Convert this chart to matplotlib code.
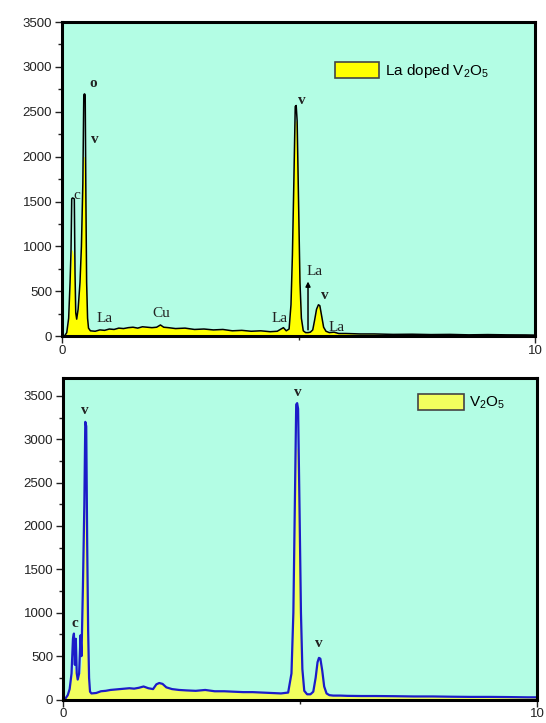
import matplotlib
matplotlib.use("Agg")
import matplotlib.pyplot as plt
from matplotlib.patches import Patch
from matplotlib.ticker import MultipleLocator

plt.rcParams['font.family'] = ['Liberation Sans', 'DejaVu Sans']
plt.rcParams['mathtext.default'] = 'regular'

# ---- top panel: La doped V2O5 (energy keV, counts) ----
e_top = [0.00, 0.05, 0.10, 0.14, 0.17, 0.19, 0.205, 0.22, 0.24, 0.26, 0.275, 0.29, 0.31, 0.34,
         0.38, 0.41, 0.44, 0.46, 0.475, 0.49, 0.505, 0.52, 0.54, 0.56, 0.60, 0.70, 0.80, 0.90,
         1.00, 1.10, 1.20, 1.30, 1.40, 1.50, 1.60, 1.70, 1.80, 1.90, 2.00, 2.08, 2.15, 2.25,
         2.40, 2.60, 2.80, 3.00, 3.20, 3.40, 3.60, 3.80, 4.00, 4.20, 4.40, 4.55, 4.63, 4.68,
         4.74, 4.80, 4.84, 4.87, 4.90, 4.93, 4.95, 4.97, 5.00, 5.03, 5.06, 5.10, 5.15, 5.20,
         5.25, 5.30, 5.34, 5.38, 5.42, 5.45, 5.49, 5.53, 5.58, 5.65, 5.75, 5.85, 6.00, 6.30,
         6.60, 7.00, 7.40, 7.80, 8.20, 8.60, 9.00, 9.40, 9.80, 10.0]
line_top = [0, 0, 40, 200, 600, 950, 1530, 1540, 1537, 1530, 700, 260, 190, 300,
            600, 1000, 1700, 2690, 2700, 2690, 1500, 600, 200, 90, 60, 55, 70, 65,
            80, 75, 90, 85, 95, 100, 90, 105, 100, 95, 100, 125, 100, 95,
            85, 90, 75, 80, 70, 75, 60, 65, 55, 60, 50, 55, 80, 95,
            60, 80, 350, 900, 1700, 2560, 2570, 2400, 1500, 600, 200, 60, 40, 40,
            45, 70, 180, 300, 350, 340, 220, 100, 55, 40, 45, 30, 30, 25,
            25, 20, 22, 18, 20, 15, 18, 15, 14, 12]
fill_top = [0, 0, 40, 200, 550, 800, 960, 960, 900, 700, 450, 260, 190, 300,
            600, 1000, 1700, 2000, 2000, 1900, 1400, 600, 200, 90, 60, 55, 70, 65,
            80, 75, 90, 85, 95, 100, 90, 105, 100, 95, 100, 125, 100, 95,
            85, 90, 75, 80, 70, 75, 60, 65, 55, 60, 50, 55, 80, 95,
            60, 80, 350, 900, 1700, 2400, 2400, 2300, 1500, 600, 200, 60, 40, 40,
            45, 70, 180, 300, 350, 340, 220, 100, 55, 40, 45, 30, 30, 25,
            25, 20, 22, 18, 20, 15, 18, 15, 14, 12]
labels_top = ["o", "v", "c", "La", "Cu", "La", "v", "La", "v", "La"]
lab_x_top = [0.65, 0.70, 0.31, 0.90, 2.09, 4.59, 5.07, 5.33, 5.56, 5.81]
lab_y_top = [2810, 2190, 1570, 196, 250, 196, 2630, 717, 452, 96]
arrow_x = 5.20
arrow_y = [40, 640]

# ---- bottom panel: V2O5 ----
e_bot = [0.00, 0.05, 0.10, 0.14, 0.18, 0.21, 0.23, 0.25, 0.27, 0.29, 0.31, 0.34, 0.37, 0.39,
         0.42, 0.45, 0.47, 0.49, 0.51, 0.53, 0.55, 0.57, 0.60, 0.70, 0.80, 0.90, 1.00, 1.10,
         1.20, 1.30, 1.40, 1.50, 1.60, 1.70, 1.80, 1.90, 1.97, 2.03, 2.10, 2.18, 2.30, 2.45,
         2.60, 2.80, 3.00, 3.20, 3.40, 3.60, 3.80, 4.00, 4.20, 4.40, 4.60, 4.75, 4.82, 4.86,
         4.89, 4.92, 4.94, 4.96, 4.99, 5.02, 5.05, 5.09, 5.15, 5.22, 5.28, 5.33, 5.37, 5.40,
         5.43, 5.47, 5.51, 5.56, 5.62, 5.70, 5.85, 6.00, 6.30, 6.60, 7.00, 7.40, 7.80, 8.20,
         8.60, 9.00, 9.40, 9.80, 10.0]
line_bot = [0, 10, 50, 120, 300, 700, 760, 400, 700, 300, 230, 300, 740, 500,
            1300, 2250, 3200, 3150, 1800, 800, 250, 90, 70, 75, 95, 100, 110, 115,
            120, 125, 130, 125, 135, 150, 130, 120, 175, 190, 180, 140, 120, 110,
            105, 100, 110, 95, 95, 90, 85, 85, 80, 75, 70, 80, 300, 1000,
            2200, 3400, 3416, 3350, 2200, 1000, 350, 100, 60, 60, 90, 250, 430, 480,
            470, 330, 150, 70, 50, 45, 45, 42, 40, 40, 38, 35, 35, 32,
            30, 30, 28, 25, 25]
fill_bot = [0, 10, 50, 120, 250, 300, 380, 320, 350, 250, 220, 280, 320, 420,
            800, 1800, 2280, 2280, 1500, 700, 250, 90, 70, 75, 95, 100, 110, 115,
            120, 125, 130, 125, 135, 150, 130, 120, 175, 190, 180, 140, 120, 110,
            105, 100, 110, 95, 95, 90, 85, 85, 80, 75, 70, 80, 300, 900,
            1800, 2900, 2900, 2800, 1800, 800, 350, 100, 60, 60, 90, 250, 400, 430,
            430, 320, 150, 70, 50, 45, 45, 42, 40, 40, 38, 35, 35, 32,
            30, 30, 28, 25, 25]
labels_bot = ["c", "v", "v", "v"]
lab_x_bot = [0.24, 0.46, 4.96, 5.40]
lab_y_bot = [875, 3330, 3537, 648]

bg = '#b3fde4'

fig = plt.figure(figsize=(5.46, 7.23), dpi=100)
ax1 = fig.add_axes([0.1136, 0.535, 0.8664, 0.4345])
ax2 = fig.add_axes([0.1154, 0.0325, 0.8681, 0.4440])


def style(ax, ymax):
    ax.set_facecolor(bg)
    ax.set_xlim(0, 10)
    ax.set_ylim(0, ymax)
    ax.set_xticks([0, 10])
    ax.xaxis.set_minor_locator(MultipleLocator(5))
    ax.yaxis.set_major_locator(MultipleLocator(500))
    ax.yaxis.set_minor_locator(MultipleLocator(250))
    ax.tick_params(which='major', direction='out', length=5, width=1, labelsize=9.5,
                   colors='#222222', pad=2)
    ax.tick_params(axis='x', which='major', pad=1)
    ax.tick_params(which='minor', direction='out', length=3, width=1, colors='#222222')
    for s in ax.spines.values():
        s.set_linewidth(2.2)
        s.set_color('black')


# top
style(ax1, 3500)
ax1.fill_between(e_top, fill_top, color='#ffff00', lw=0)
ax1.plot(e_top, line_top, color='black', lw=1.1)
ax1.annotate('', xy=(arrow_x, arrow_y[1]), xytext=(arrow_x, arrow_y[0]),
             arrowprops=dict(arrowstyle='-|>', color='black', lw=1.1, mutation_scale=7))
for t, x, y in zip(labels_top, lab_x_top, lab_y_top):
    ax1.text(x, y, t, ha='center', va='center', fontsize=11, family='Liberation Serif',
             fontweight='bold' if t in ('o', 'v') else 'normal', color='#222222')
ax1.legend(handles=[Patch(facecolor='#ffff00', edgecolor='#444444', lw=1.2)],
           labels=['La doped V$_2$O$_5$'], loc='center left',
           bbox_to_anchor=(0.577, 0.844), frameon=False, fontsize=11,
           borderpad=0, borderaxespad=0, handlelength=2.9, handleheight=1.2,
           handletextpad=0.35)

# bottom
style(ax2, 3700)
ax2.fill_between(e_bot, fill_bot, color='#f2ff5e', lw=0)
ax2.plot(e_bot, line_bot, color='#1c1cc8', lw=1.6)
for t, x, y in zip(labels_bot, lab_x_bot, lab_y_bot):
    ax2.text(x, y, t, ha='center', va='center', fontsize=11, family='Liberation Serif',
             fontweight='bold', color='#222222')
ax2.legend(handles=[Patch(facecolor='#f2ff5e', edgecolor='#444444', lw=1.2)],
           labels=['V$_2$O$_5$'], loc='center left',
           bbox_to_anchor=(0.749, 0.925), frameon=False, fontsize=11,
           borderpad=0, borderaxespad=0, handlelength=3.0, handleheight=1.2,
           handletextpad=0.35)

fig.savefig('out.png', dpi=100)
